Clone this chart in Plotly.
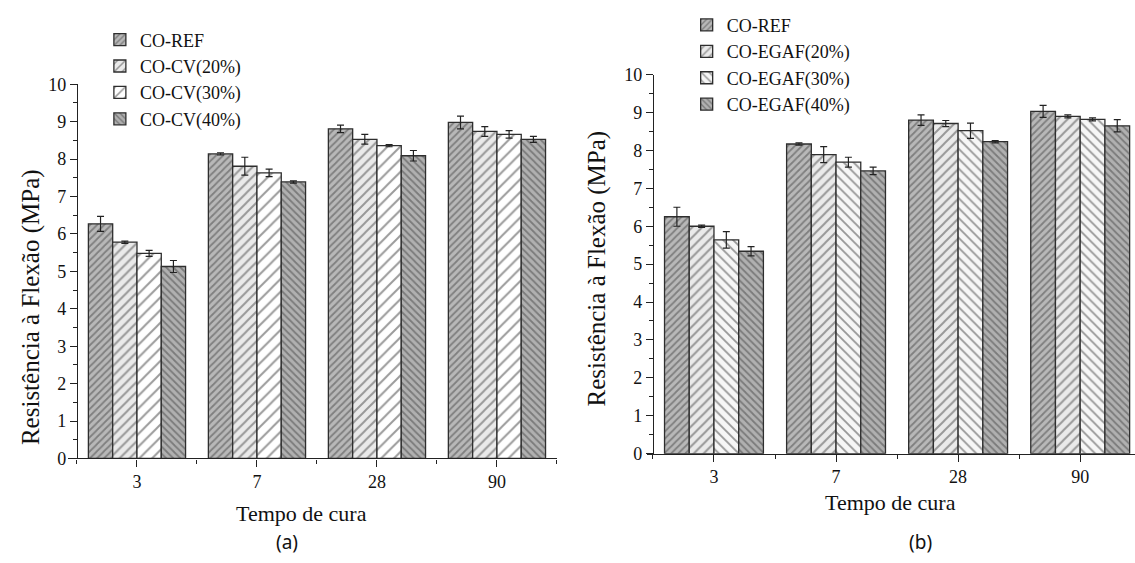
import plotly.graph_objects as go

categories = ["3", "7", "28", "90"]

# Panel (a)
names_a = ["CO-REF", "CO-CV(20%)", "CO-CV(30%)", "CO-CV(40%)"]
ref_a = [6.27, 8.14, 8.81, 8.98]
ref_a_err = [0.20, 0.03, 0.10, 0.17]
cv20 = [5.78, 7.81, 8.53, 8.74]
cv20_err = [0.03, 0.24, 0.13, 0.13]
cv30 = [5.48, 7.63, 8.36, 8.66]
cv30_err = [0.08, 0.10, 0.03, 0.10]
cv40 = [5.13, 7.39, 8.09, 8.53]
cv40_err = [0.16, 0.03, 0.14, 0.08]

# Panel (b)
names_b = ["CO-REF", "CO-EGAF(20%)", "CO-EGAF(30%)", "CO-EGAF(40%)"]
ref_b = [6.25, 8.17, 8.80, 9.03]
ref_b_err = [0.25, 0.03, 0.14, 0.16]
egaf20 = [6.00, 7.89, 8.71, 8.90]
egaf20_err = [0.03, 0.21, 0.08, 0.04]
egaf30 = [5.64, 7.69, 8.52, 8.82]
egaf30_err = [0.22, 0.13, 0.20, 0.04]
egaf40 = [5.34, 7.46, 8.23, 8.65]
egaf40_err = [0.12, 0.10, 0.03, 0.16]

y_title = "Resistência à Flexão (MPa)"
x_title = "Tempo de cura"

SERIF = "Liberation Serif"

pat_a = [
    dict(shape="/", bgcolor="#b8b8b8", fgcolor="#454545", size=5, solidity=0.35),
    dict(shape="/", bgcolor="#eaeaea", fgcolor="#454545", size=7, solidity=0.28),
    dict(shape="/", bgcolor="#ffffff", fgcolor="#383838", size=9, solidity=0.22),
    dict(shape="\\", bgcolor="#b0b0b0", fgcolor="#454545", size=5, solidity=0.35),
]
pat_b = [
    dict(shape="/", bgcolor="#b8b8b8", fgcolor="#454545", size=5, solidity=0.35),
    dict(shape="/", bgcolor="#eaeaea", fgcolor="#454545", size=7, solidity=0.28),
    dict(shape="\\", bgcolor="#f6f6f6", fgcolor="#383838", size=7, solidity=0.26),
    dict(shape="\\", bgcolor="#b0b0b0", fgcolor="#454545", size=5, solidity=0.35),
]

xpos = list(range(len(categories)))

fig = go.Figure()

series_a = [(ref_a, ref_a_err), (cv20, cv20_err), (cv30, cv30_err), (cv40, cv40_err)]
for name, (vals, errs), pat in zip(names_a, series_a, pat_a):
    fig.add_trace(go.Bar(
        x=xpos, y=vals, name=name, xaxis="x", yaxis="y", legend="legend",
        marker=dict(pattern=pat, line=dict(color="#2e2e2e", width=1.3)),
        error_y=dict(type="data", array=errs, color="#222222", thickness=1.2, width=3.5),
    ))

series_b = [(ref_b, ref_b_err), (egaf20, egaf20_err), (egaf30, egaf30_err), (egaf40, egaf40_err)]
for name, (vals, errs), pat in zip(names_b, series_b, pat_b):
    fig.add_trace(go.Bar(
        x=xpos, y=vals, name=name, xaxis="x2", yaxis="y2", legend="legend2",
        marker=dict(pattern=pat, line=dict(color="#2e2e2e", width=1.3)),
        error_y=dict(type="data", array=errs, color="#222222", thickness=1.2, width=3.5),
    ))

n = len(categories)
minor_vals = [i - 0.5 for i in range(n + 1)]

def xaxis_cfg(domain, rng, anchor):
    return dict(
        domain=domain, range=rng, anchor=anchor, tickmode="array", tickvals=xpos,
        ticktext=categories, ticks="outside", ticklen=7, tickwidth=1.2,
        tickcolor="#222", showline=True, linecolor="#222", linewidth=1.3,
        showgrid=False, zeroline=False,
        tickfont=dict(family=SERIF, size=18, color="#111"),
        minor=dict(tickmode="array", tickvals=minor_vals, ticks="outside",
                   ticklen=4, tickwidth=1.2, tickcolor="#222"),
    )

def yaxis_cfg(domain, overlay_x, pos):
    return dict(
        domain=domain, anchor="free", position=pos, range=[0, 10], dtick=1, tick0=0,
        ticks="outside", ticklen=7, tickwidth=1.2, tickcolor="#222",
        showline=True, linecolor="#222", linewidth=1.3, showgrid=False,
        zeroline=False, tickfont=dict(family=SERIF, size=18, color="#111"),
        minor=dict(dtick=0.5, ticks="outside", ticklen=4, tickwidth=1.2,
                   tickcolor="#222"),
    )

def ann(text, x, y, size, family=SERIF, angle=0):
    return dict(text=text, x=x, y=y, xref="paper", yref="paper",
                xanchor="center", yanchor="middle", textangle=angle,
                showarrow=False, font=dict(family=family, size=size, color="#111"))

fig.update_layout(
    width=1135, height=563,
    margin=dict(l=0, r=0, t=0, b=0),
    paper_bgcolor="white", plot_bgcolor="white",
    barmode="group", bargap=0.19, bargroupgap=0,
    xaxis=xaxis_cfg([0.0599, 0.4907], [-0.575, 3.5], "y"),
    yaxis=yaxis_cfg([0.1741, 0.8632], "x", 0.0678),
    xaxis2=xaxis_cfg([0.5700, 1.0], [-0.549, 3.449], "y2"),
    yaxis2=yaxis_cfg([0.1830, 0.8810], "x2", 0.5753),
    legend=dict(x=0.088, y=0.979, xanchor="left", yanchor="top",
                font=dict(family=SERIF, size=18, color="#111"),
                bgcolor="rgba(0,0,0,0)", tracegroupgap=0),
    legend2=dict(x=0.605, y=1.006, xanchor="left", yanchor="top",
                 font=dict(family=SERIF, size=18, color="#111"),
                 bgcolor="rgba(0,0,0,0)", tracegroupgap=0),
    annotations=[
        ann(y_title, 0.0273, 0.4529, 25, angle=-90),
        ann(y_title, 0.526, 0.524, 25, angle=-90),
        ann(x_title, 0.266, 0.0728, 22),
        ann(x_title, 0.785, 0.0924, 22),
        ann("(a)", 0.253, 0.0195, 19, family="Noto Sans"),
        ann("(b)", 0.8106, 0.0195, 19, family="Noto Sans"),
    ],
)

fig.write_html("out.html")
